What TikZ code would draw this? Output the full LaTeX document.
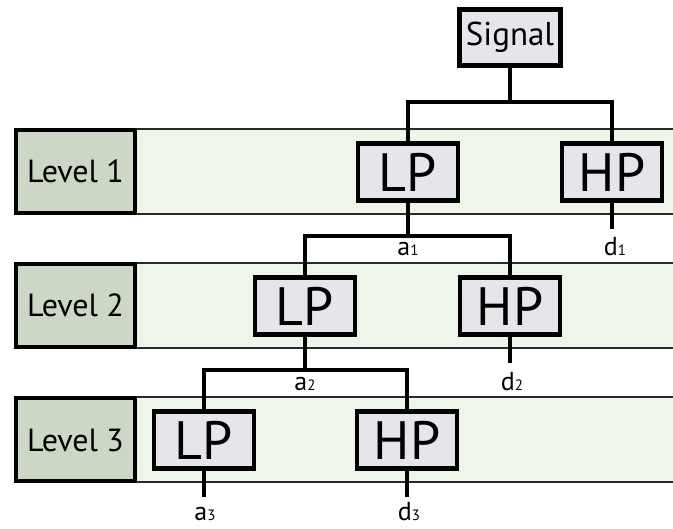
\documentclass[tikz,border=0pt]{standalone}
\usepackage{fontspec}
\setmainfont{PT Sans}
\definecolor{bandfill}{HTML}{EEF6EA}
\definecolor{levelfill}{HTML}{CCD7C5}
\definecolor{filterfill}{HTML}{E6E6EA}
\definecolor{bandline}{HTML}{2A2A2A}
\newcommand{\coef}[2]{#1{\fontsize{15pt}{15pt}\selectfont #2}}
\begin{document}
\begin{tikzpicture}[x=1pt,y=-1pt,
  filterbox/.style={draw=black,line width=4.5pt,fill=filterfill,
    minimum width=100pt,minimum height=57pt,inner sep=0pt,
    font=\fontsize{54pt}{54pt}\selectfont},
  sigbox/.style={filterbox,minimum width=101pt,minimum height=56pt,
    font=\fontsize{33pt}{33pt}\selectfont},
  levelbox/.style={draw=black,line width=4pt,fill=levelfill,
    minimum width=119pt,minimum height=83pt,inner sep=0pt,
    font=\fontsize{32pt}{32pt}\selectfont},
  band/.style={fill=bandfill},
  bandedge/.style={draw=bandline,line width=1.5pt},
  wire/.style={draw=black,line width=4pt,line join=miter},
  coeflabel/.style={anchor=base,inner sep=0pt,
    font=\fontsize{26pt}{26pt}\selectfont}]
\useasboundingbox (0,0) rectangle (673,529);
\fill[white] (0,0) rectangle (673,529);

% level bands
\foreach \t/\b in {129/214, 263/348, 397/482}{
  \fill[band] (130,\t) rectangle (674,\b);
  \draw[bandedge] (130,\t) -- (674,\t);
  \draw[bandedge] (130,\b) -- (674,\b);
}

% level labels
\node[levelbox] (lev1) at (75.5,171.5) {Level 1};
\node[levelbox] (lev2) at (75.5,305.5) {Level 2};
\node[levelbox] (lev3) at (75.5,440) {Level 3};

% filter bank
\node[sigbox] (sig) at (510,37.5) {Signal};
\node[filterbox] (lp1) at (408,172) {LP};
\node[filterbox] (hp1) at (612,172) {HP};
\node[filterbox] (lp2) at (305,306) {LP};
\node[filterbox] (hp2) at (510,306) {HP};
\node[filterbox] (lp3) at (204,440) {LP};
\node[filterbox] (hp3) at (407,440) {HP};

% junctions and free ends
\coordinate (j1) at (sig.south |- 0,102);
\coordinate (j2) at (lp1.south |- 0,236);
\coordinate (j3) at (lp2.south |- 0,370);
\coordinate (e1) at (hp1.south |- 0,229);
\coordinate (e2) at (hp2.south |- 0,363);
\coordinate (e3) at (lp3.south |- 0,497);
\coordinate (e4) at (hp3.south |- 0,497);

% connectors
\draw[wire] (sig.south) -- (j1);
\draw[wire] (lp1.north) |- (j1) -| (hp1.north);
\draw[wire] (lp1.south) -- (j2);
\draw[wire] (lp2.north) |- (j2) -| (hp2.north);
\draw[wire] (lp2.south) -- (j3);
\draw[wire] (lp3.north) |- (j3) -| (hp3.north);
\draw[wire] (hp1.south) -- (e1);
\draw[wire] (hp2.south) -- (e2);
\draw[wire] (lp3.south) -- (e3);
\draw[wire] (hp3.south) -- (e4);

% coefficient labels
\node[coeflabel] (a1) at (408,256) {\coef{a}{1}};
\node[coeflabel] (d1) at (615,256) {\coef{d}{1}};
\node[coeflabel] (a2) at (305,391) {\coef{a}{2}};
\node[coeflabel] (d2) at (512,391) {\coef{d}{2}};
\node[coeflabel] (a3) at (205,521) {\coef{a}{3}};
\node[coeflabel] (d3) at (409,521) {\coef{d}{3}};
\end{tikzpicture}
\end{document}
